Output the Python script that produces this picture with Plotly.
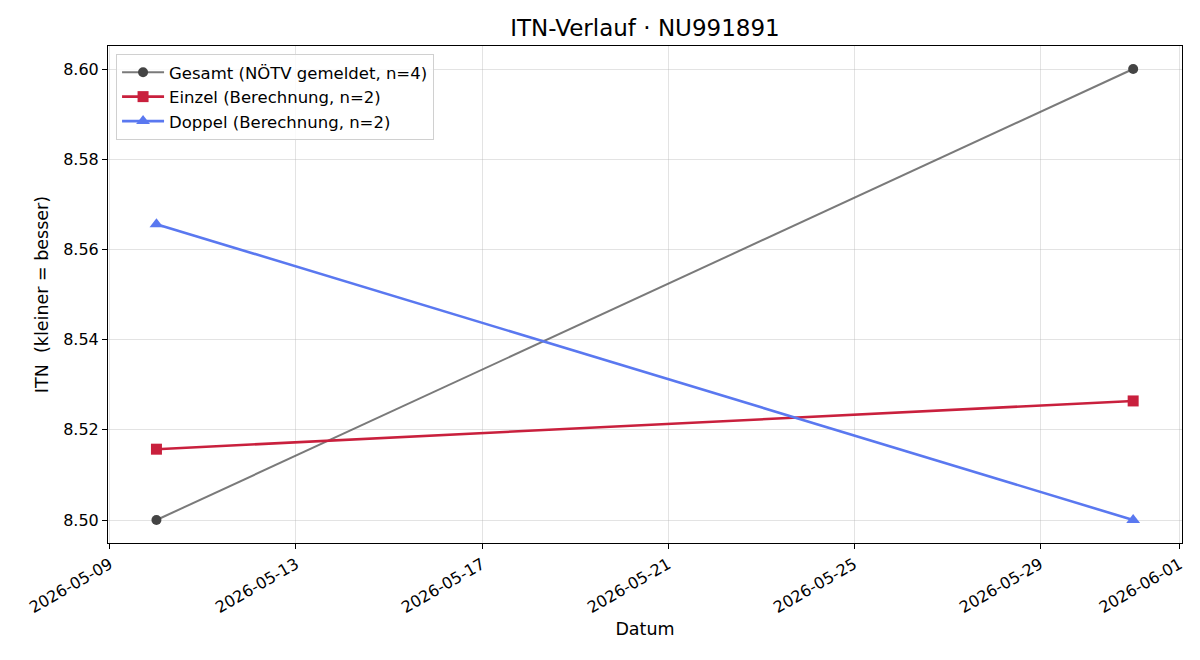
import plotly.graph_objects as go

dates = ["2026-05-10", "2026-05-31"]
gesamt = [8.50, 8.60]
einzel = [8.5157, 8.5264]
doppel = [8.5656, 8.50]
xticks = ["2026-05-09", "2026-05-13", "2026-05-17", "2026-05-21", "2026-05-25", "2026-05-29", "2026-06-01"]
yticks = [8.50, 8.52, 8.54, 8.56, 8.58, 8.60]

FONT = "DejaVu Sans"
fig = go.Figure()
fig.add_trace(go.Scatter(x=dates, y=gesamt, mode="lines+markers",
                         name="Gesamt (NÖTV gemeldet, n=4)",
                         line=dict(color="rgba(85,85,85,0.78)", width=2),
                         marker=dict(color="#444444", size=10, symbol="circle")))
fig.add_trace(go.Scatter(x=dates, y=einzel, mode="lines+markers",
                         name="Einzel (Berechnung, n=2)",
                         line=dict(color="#C9203D", width=2.6),
                         marker=dict(color="#C9203D", size=11, symbol="square")))
fig.add_trace(go.Scatter(x=dates, y=doppel, mode="lines+markers",
                         name="Doppel (Berechnung, n=2)",
                         line=dict(color="#5A78F0", width=2.6),
                         marker=dict(color="#5A78F0", size=12, symbol="triangle-up")))

axis_common = dict(showline=True, linecolor="black", linewidth=1, mirror=True,
                   ticks="outside", ticklen=5, tickcolor="black", tickwidth=1,
                   showgrid=True, gridcolor="rgba(176,176,176,0.35)", gridwidth=1,
                   zeroline=False, tickfont=dict(family=FONT, size=16, color="black"))

fig.update_layout(
    width=1200, height=660,
    margin=dict(l=108, r=18, t=46, b=117),
    paper_bgcolor="white", plot_bgcolor="white",
    font=dict(family=FONT, color="black"),
    title=dict(text="ITN-Verlauf · NU991891", x=(108 + 1182) / 2 / 1200, xanchor="center",
               y=1 - 28 / 660, yanchor="middle", font=dict(family=FONT, size=23, color="black")),
    xaxis=dict(**axis_common, type="date", range=["2026-05-08 23:00", "2026-06-01 01:12"],
               tickmode="array", tickvals=xticks, ticktext=xticks, tickangle=-30,
               title=dict(text="Datum", font=dict(family=FONT, size=17.5), standoff=6)),
    yaxis=dict(**axis_common, range=[8.4949, 8.6051], tickmode="array",
               tickvals=yticks, ticktext=[f"{v:.2f}" for v in yticks],
               title=dict(text="ITN\u00a0 (kleiner = besser)", font=dict(family=FONT, size=17.5), standoff=10)),
    legend=dict(x=0.0075, y=0.984, xanchor="left", yanchor="top", itemwidth=42,
                bgcolor="rgba(255,255,255,0.8)", bordercolor="#d0d0d0", borderwidth=1,
                font=dict(family=FONT, size=16.5, color="black"), tracegroupgap=0),
    showlegend=True,
)
fig.write_html("out.html")
